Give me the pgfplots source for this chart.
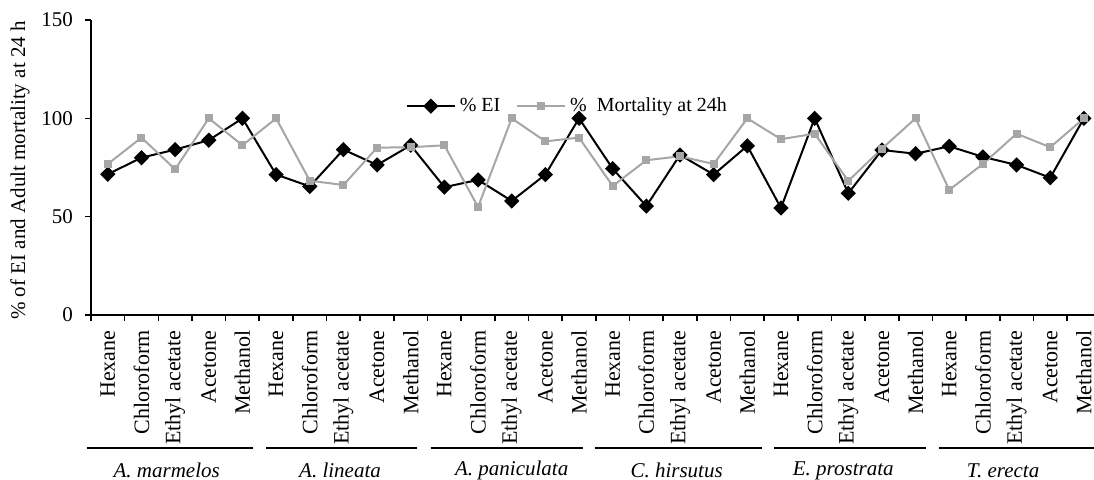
\documentclass[border=0pt]{standalone}
\usepackage{pgfplots}
\usepackage{pgfplotstable}
\pgfplotsset{compat=1.18}
\usepackage{fontspec}
\setmainfont{Liberation Serif}
\definecolor{mgray}{RGB}{166,166,166}
\pgfplotstableread{
x ei mo
0 71.6 76.8
1 80.0 90.2
2 84.1 74.1
3 88.9 100
4 100 86.3
5 71.4 100
6 65.4 68.3
7 84.1 66.1
8 76.3 85.1
9 86.3 85.3
10 65.0 86.3
11 68.7 54.9
12 58.0 100
13 71.4 88.3
14 100 90.2
15 74.4 65.6
16 55.4 78.7
17 81.4 80.7
18 71.4 76.8
19 86.0 100
20 54.4 89.4
21 100 92.2
22 61.9 68.2
23 83.9 84.6
24 82.0 100
25 85.8 63.6
26 80.4 76.8
27 76.3 92.2
28 69.8 85.3
29 100 100
}\data
\begin{document}
\begin{tikzpicture}
\useasboundingbox (-45.5pt,-82pt) rectangle (501.5pt,157.5pt);
\begin{axis}[
  at={(0,0)}, anchor=south west,
  scale only axis, width=501.5pt, height=147.5pt,
  xmin=-0.5, xmax=29.3, ymin=0, ymax=150,
  axis lines*=left,
  axis line style={line width=0.9pt},
  clip=false,
  ytick={0,50,100,150},
  xtick={0,...,29},
  xticklabels={Hexane,Chloroform,Ethyl acetate,Acetone,Methanol,
               Hexane,Chloroform,Ethyl acetate,Acetone,Methanol,
               Hexane,Chloroform,Ethyl acetate,Acetone,Methanol,
               Hexane,Chloroform,Ethyl acetate,Acetone,Methanol,
               Hexane,Chloroform,Ethyl acetate,Acetone,Methanol,
               Hexane,Chloroform,Ethyl acetate,Acetone,Methanol},
  minor xtick={-0.5,0.5,...,28.5},
  major x tick style={draw=none},
  tick align=outside,
  major tick length=3pt, minor tick length=3pt,
  tick style={line width=0.8pt, black},
  xticklabel style={rotate=90, anchor=east, font=\fontsize{11}{12}\selectfont},
  xticklabel shift=1.2pt,
  yticklabel style={font=\fontsize{10.5}{12}\selectfont},
  yticklabel shift=2.5pt,
  /pgf/number format/assume math mode=true,
  ylabel={\% of EI and Adult mortality at 24 h},
  ylabel style={at={(axis description cs:-0.0708,0.49)}, anchor=center, font=\fontsize{10.5}{12}\selectfont},
  legend style={at={(0.476,0.708)}, anchor=center, draw=none, fill=none,
    font=\fontsize{10}{12}\selectfont, legend columns=2,
    /tikz/every even column/.append style={column sep=6pt}},
  legend image code/.code={\draw[mark repeat=2,mark phase=2,#1] plot coordinates {(0cm,0cm) (0.42cm,0cm) (0.84cm,0cm)};},
]
\addplot[black, line width=1pt, mark=square*, mark size=2.2pt, mark options={rotate=45, solid}] table[x=x,y=ei]{\data};
\addlegendentry{\% EI}
\addplot[mgray, line width=1pt, mark=square*, mark size=1.5pt, mark options={solid}] table[x=x,y=mo]{\data};
\addlegendentry{\% \ Mortality at 24h}

\draw[line width=0.8pt] (axis cs:-0.62,-67.7) -- (axis cs:4.32,-67.7);
\draw[line width=0.8pt] (axis cs:4.71,-67.7) -- (axis cs:9.2,-67.7);
\draw[line width=0.8pt] (axis cs:9.59,-67.7) -- (axis cs:14.12,-67.7);
\draw[line width=0.8pt] (axis cs:14.47,-67.7) -- (axis cs:19.44,-67.7);
\draw[line width=0.8pt] (axis cs:19.8,-67.7) -- (axis cs:24.3,-67.7);
\draw[line width=0.8pt] (axis cs:24.7,-67.7) -- (axis cs:29.3,-67.7);
\node[font=\fontsize{10.5}{12}\selectfont\itshape] at (axis cs:1.75,-79) {A. marmelos};
\node[font=\fontsize{10.5}{12}\selectfont\itshape] at (axis cs:6.9,-79) {A. lineata};
\node[font=\fontsize{10.5}{12}\selectfont\itshape] at (axis cs:12.0,-79) {A. paniculata};
\node[font=\fontsize{10.5}{12}\selectfont\itshape] at (axis cs:16.9,-79) {C. hirsutus};
\node[font=\fontsize{10.5}{12}\selectfont\itshape] at (axis cs:21.85,-79) {E. prostrata};
\node[font=\fontsize{10.5}{12}\selectfont\itshape] at (axis cs:26.6,-79) {T. erecta};
\end{axis}
\end{tikzpicture}
\end{document}
